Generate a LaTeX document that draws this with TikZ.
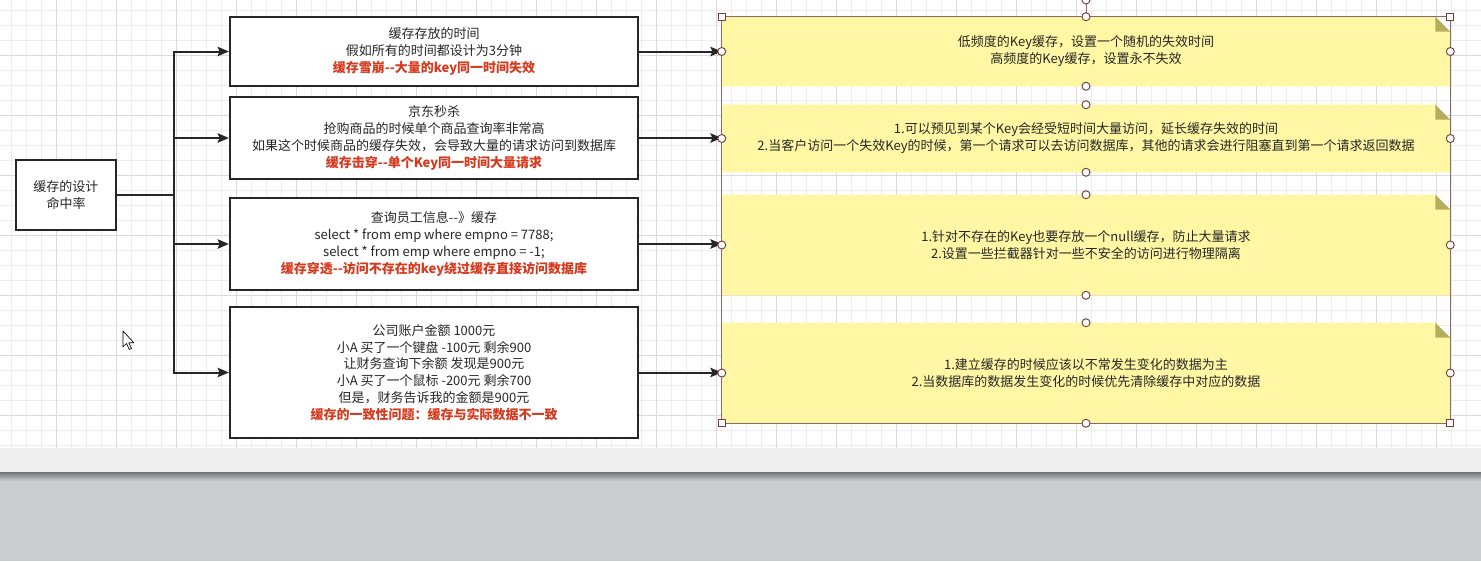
\documentclass[tikz,border=0pt]{standalone}
\usepackage{fontspec}
\newfontfamily\cjk{Noto Sans CJK SC}
\usetikzlibrary{arrows.meta}
\definecolor{ink}{HTML}{262626}
\definecolor{txt}{HTML}{262626}
\definecolor{redtxt}{HTML}{D63A1E}
\definecolor{notey}{HTML}{FFF7A3}
\definecolor{foldc}{HTML}{B5AD5D}
\definecolor{gridminor}{HTML}{EDEDED}
\definecolor{gridmajor}{HTML}{DADADA}
\definecolor{selc}{HTML}{7A3A3A}
\definecolor{selline}{HTML}{8A6A6A}
\definecolor{band}{HTML}{EEEEEE}
\definecolor{floorc}{HTML}{CBCDD1}
\pgfdeclarelayer{gridlayer}
\pgfdeclarelayer{filllayer}
\pgfsetlayers{gridlayer,filllayer,main}
\newcommand\hot[1]{\textcolor{redtxt}{\bfseries #1}}
\newcommand\dd{-\kern0pt-}
\begin{document}
\begin{tikzpicture}[x=0.75pt,y=-0.75pt,
  box/.style={draw=ink,line width=1.6pt,fill=white,align=center,inner sep=0pt,text=txt,
    font=\cjk\fontsize{9.75}{12.6}\selectfont},
  notebox/.style={align=center,inner sep=0pt,text=txt,minimum width=546pt,
    font=\cjk\fontsize{9.75}{12.75}\selectfont},
  link/.style={draw=ink,line width=1.5pt,-{Stealth[length=8.5pt,width=7pt,inset=1.5pt]}},
  hsq/.style={draw=selc,fill=white,line width=0.7pt,minimum size=5pt,inner sep=0pt,rectangle},
  hci/.style={draw=selc,fill=white,line width=0.7pt,minimum size=6pt,inner sep=0pt,circle},
  foldfill/.style={fill=foldc},
  notefill/.style={fill=notey}]
\useasboundingbox (0,0) rectangle (1481,561);
% background
\begin{pgfonlayer}{gridlayer}
\fill[white] (0,0) rectangle (1481,448);
\foreach \x in {11.7,26.7,...,1481} \draw[gridminor,line width=0.75pt] (\x,0) -- (\x,448);
\foreach \y in {10,25,...,447} \draw[gridminor,line width=0.75pt] (0,\y) -- (1481,\y);
\foreach \x in {56.7,116.7,...,1481} \draw[gridmajor,line width=0.75pt] (\x,0) -- (\x,448);
\foreach \y in {55,115,...,447} \draw[gridmajor,line width=0.75pt] (0,\y) -- (1481,\y);
\fill[band] (0,448) rectangle (1481,472);
\fill[floorc] (0,472) rectangle (1481,561);
\shade[top color=black!55, bottom color=floorc] (0,472) rectangle (1481,481);
\end{pgfonlayer}

% left box
\node[box,minimum width=75pt,minimum height=52.5pt] (L) at (66,195) {缓存的设计\\命中率};

% middle boxes
\node[box,minimum width=306pt,minimum height=51.75pt] (B1) at (434,51.5)
  {缓存存放的时间\\假如所有的时间都设计为3分钟\\\hot{缓存雪崩\dd 大量的key同一时间失效}};
\node[box,minimum width=306pt,minimum height=61.5pt] (B2) at (434,138)
  {京东秒杀\\抢购商品的时候单个商品查询率非常高\\如果这个时候商品的缓存失效，会导致大量的请求访问到数据库\\\hot{缓存击穿\dd 单个Key同一时间大量请求}};
\node[box,minimum width=306pt,minimum height=69pt] (B3) at (434,244)
  {查询员工信息\dd 》缓存\\select * from emp where empno = 7788;\\select * from emp where empno = -1;\\\hot{缓存穿透\dd 访问不存在的key绕过缓存直接访问数据库}};
\node[box,minimum width=306pt,minimum height=98.25pt] (B4) at (434,372.5)
  {公司账户金额 1000元\\小A 买了一个键盘 -100元 剩余900\\让财务查询下余额 发现是900元\\小A 买了一个鼠标 -200元 剩余700\\但是，财务告诉我的金额是900元\\\hot{缓存的一致性问题：缓存与实际数据不一致}};

% notes
\node[notebox,minimum height=51.75pt] (N1) at (1086,51.5)
  {低频度的Key缓存，设置一个随机的失效时间\\高频度的Key缓存，设置永不失效};
\node[notebox,minimum height=50.25pt] (N2) at (1086,138.5)
  {1.可以预见到某个Key会经受短时间大量访问，延长缓存失效的时间\\2.当客户访问一个失效Key的时候，第一个请求可以去访问数据库，其他的请求会进行阻塞直到第一个请求返回数据};
\node[notebox,minimum height=75pt] (N3) at (1086,245)
  {1.针对不存在的Key也要存放一个null缓存，防止大量请求\\2.设置一些拦截器针对一些不安全的访问进行物理隔离};
\node[notebox,minimum height=75pt] (N4) at (1086,373)
  {1.建立缓存的时候应该以不常发生变化的数据为主\\2.当数据库的数据发生变化的时候优先清除缓存中对应的数据};

\begin{pgfonlayer}{filllayer}
\foreach \n in {N1,N2,N3,N4} {
  \fill[notefill] (\n.north west) -- ([xshift=-11.25pt]\n.north east)
     -- ([yshift=-11.25pt]\n.north east) -- (\n.south east) -- (\n.south west) -- cycle;
  \fill[foldfill] ([xshift=-11.25pt]\n.north east) -- ([xshift=-11.25pt,yshift=-11.25pt]\n.north east)
     -- ([yshift=-11.25pt]\n.north east) -- cycle;
}
\end{pgfonlayer}

% connectors
\foreach \b in {B1,B2,B3,B4}
  \draw[link] (L.east) -- ++(57,0) |- (\b.west);
\draw[link] (B1.east) -- (B1.east -| N1.west);
\draw[link] (B2.east) -- (B2.east -| N2.west);
\draw[link] (B3.east) -- (B3.east -| N3.west);
\draw[link] (B4.east) -- (B4.east -| N4.west);

% selection overlay
\coordinate (S1) at (N1.north west);
\coordinate (S2) at (N1.north east);
\coordinate (S3) at (N4.south west);
\coordinate (S4) at (N4.south east);
\coordinate (R) at (1086,0);
\draw[selline,line width=0.6pt] (S1) rectangle (S4);
\draw[selline,line width=0.6pt] (R) -- (N1.north);
\node[hci] (Rh) at (R) {};
\foreach \n in {N1,N2,N3,N4} {
  \node[hci] at (\n.west) {};
  \node[hci] at (\n.east) {};
  \node[hci] at (\n.north) {};
  \node[hci] at (\n.south) {};
}
\foreach \c in {S1,S2,S3,S4} \node[hsq] at (\c) {};

% mouse cursor
\draw[black,fill=white,line width=0.5pt,line join=round] (123,331) -- ++(0,16) -- ++(3.5,-3.5)
  -- ++(2.8,6) -- ++(2.2,-1) -- ++(-2.7,-5.8) -- ++(5,0) -- cycle;
\end{tikzpicture}
\end{document}
